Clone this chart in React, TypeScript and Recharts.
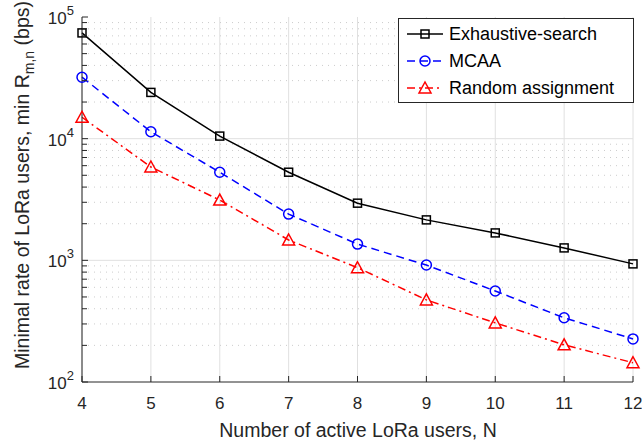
import React from 'react';
import {
  LineChart,
  Line,
  XAxis,
  YAxis,
  CartesianGrid,
  ReferenceLine,
  Legend,
} from 'recharts';

const users = [4, 5, 6, 7, 8, 9, 10, 11, 12];
const exhaustive = [74000, 24000, 10500, 5300, 2950, 2150, 1680, 1265, 935];
const mcaa = [32000, 11400, 5300, 2400, 1360, 915, 560, 337, 226];
const randomAssign = [15000, 5850, 3130, 1470, 870, 473, 306, 202, 144];

const decades = [100, 1000, 10000, 100000];
const minorSteps = [2, 3, 4, 5, 6, 7, 8, 9];
const yTicks = decades.flatMap((d, i) =>
  i < decades.length - 1 ? [d, ...minorSteps.map((m) => m * d)] : [d]
);

const series = [
  { key: 'exhaustive', name: 'Exhaustive-search', color: '#000000', dash: undefined, marker: 'square' },
  { key: 'mcaa', name: 'MCAA', color: '#0000ff', dash: '8 5', marker: 'circle' },
  { key: 'random', name: 'Random assignment', color: '#ff0000', dash: '8 4 2 4', marker: 'triangle' },
];

const data = users.map((n, i) => ({
  n,
  exhaustive: exhaustive[i],
  mcaa: mcaa[i],
  random: randomAssign[i],
}));

const AXIS = '#262626';
const FONT = '"Liberation Sans", Arial, Helvetica, sans-serif';

const Marker = ({ type, cx, cy, color }: any) => {
  if (cx == null || cy == null) return null;
  if (type === 'square') {
    return <rect x={cx - 4} y={cy - 4} width={8} height={8} fill="none" stroke={color} strokeWidth={1.5} />;
  }
  if (type === 'circle') {
    return <circle cx={cx} cy={cy} r={5} fill="none" stroke={color} strokeWidth={1.5} />;
  }
  return (
    <polygon
      points={`${cx},${cy - 6} ${cx - 6},${cy + 5} ${cx + 6},${cy + 5}`}
      fill="none"
      stroke={color}
      strokeWidth={1.5}
    />
  );
};

const LeftTick = ({ x, y, payload }: any) => {
  const v = payload.value;
  const major = decades.includes(v);
  const axisX = x + 8;
  return (
    <g>
      <line x1={axisX} x2={axisX + (major ? 6 : 5)} y1={y} y2={y} stroke={AXIS} />
      {major && (
        <text x={x} y={y + 7} textAnchor="end" fill={AXIS} fontSize={17} fontFamily={FONT}>
          <tspan>10</tspan>
          <tspan dy={-9} fontSize={13}>{Math.round(Math.log10(v))}</tspan>
        </text>
      )}
    </g>
  );
};

const RightTick = ({ x, y, payload }: any) => {
  const major = decades.includes(payload.value);
  return <line x1={x} x2={x - (major ? 6 : 5)} y1={y} y2={y} stroke={AXIS} />;
};

const BottomTick = ({ x, y, payload }: any) => (
  <g>
    <line x1={x} x2={x} y1={y} y2={y - 6} stroke={AXIS} />
    <text x={x} y={y + 27} textAnchor="middle" fill={AXIS} fontSize={17} fontFamily={FONT}>
      {payload.value}
    </text>
  </g>
);

const TopTick = ({ x, y }: any) => <line x1={x} x2={x} y1={y} y2={y + 6} stroke={AXIS} />;

const XLabel = () => (
  <text x={358} y={437} textAnchor="middle" fontSize={19.5} fontFamily={FONT} fill={AXIS}>
    Number of active LoRa users, N
  </text>
);

const YLabel = () => (
  <text
    transform="translate(29,185) rotate(-90)"
    textAnchor="middle"
    fontSize={19.5}
    fontFamily={FONT}
    fill={AXIS}
  >
    <tspan>Minimal rate of LoRa users, min R</tspan>
    <tspan dy={5} fontSize={14}>m,n</tspan>
    <tspan dy={-5}> (bps)</tspan>
  </text>
);

const LegendBox = () => (
  <svg width={236} height={85} style={{ display: 'block' }}>
    <rect x={0.5} y={0.5} width={235} height={84} fill="#ffffff" stroke={AXIS} />
    {series.map((s, i) => {
      const cy = 16 + i * 27;
      return (
        <g key={s.key}>
          <line x1={9} x2={45} y1={cy} y2={cy} stroke={s.color} strokeWidth={1.5} strokeDasharray={s.dash} />
          <Marker type={s.marker} cx={27} cy={cy} color={s.color} />
          <text x={51} y={cy + 6} fontSize={18} fontFamily={FONT} fill="#000000">
            {s.name}
          </text>
        </g>
      );
    })}
  </svg>
);

export default function App() {
  return (
    <div style={{ position: 'absolute', left: 0, top: 0, background: '#ffffff' }}>
      <LineChart
        width={642}
        height={445}
        data={data}
        margin={{ top: 17, right: 9, bottom: 0, left: 0 }}
      >
        <CartesianGrid horizontal={false} stroke="#e0e0e0" strokeWidth={1} />
        {yTicks
          .filter((v) => v > 100 && v < 100000)
          .map((v) => (
            <ReferenceLine
              key={v}
              y={v}
              stroke={decades.includes(v) ? '#e0e0e0' : '#cccccc'}
              strokeDasharray={decades.includes(v) ? undefined : '1 5'}
            />
          ))}
        <XAxis
          dataKey="n"
          type="number"
          domain={[4, 12]}
          ticks={users}
          interval={0}
          height={63}
          tickSize={0}
          tickMargin={0}
          tickLine={false}
          axisLine={{ stroke: AXIS }}
          tick={<BottomTick />}
          label={{ content: XLabel }}
        />
        <XAxis
          xAxisId="top"
          dataKey="n"
          type="number"
          orientation="top"
          domain={[4, 12]}
          ticks={users}
          interval={0}
          height={0}
          tickSize={0}
          tickMargin={0}
          tickLine={false}
          axisLine={{ stroke: AXIS }}
          tick={<TopTick />}
        />
        <YAxis
          scale="log"
          type="number"
          domain={[100, 100000]}
          ticks={yTicks}
          interval={0}
          width={82}
          tickSize={0}
          tickMargin={8}
          tickLine={false}
          axisLine={{ stroke: AXIS }}
          tick={<LeftTick />}
          allowDataOverflow
          label={{ content: YLabel }}
        />
        <YAxis
          yAxisId="right"
          orientation="right"
          scale="log"
          type="number"
          domain={[100, 100000]}
          ticks={yTicks}
          interval={0}
          width={0}
          tickSize={0}
          tickMargin={0}
          tickLine={false}
          axisLine={{ stroke: AXIS }}
          tick={<RightTick />}
          allowDataOverflow
        />
        {series.map((s) => (
          <Line
            key={s.key}
            dataKey={s.key}
            name={s.name}
            stroke={s.color}
            strokeWidth={1.5}
            strokeDasharray={s.dash}
            isAnimationActive={false}
            dot={(p: any) => <Marker key={`${s.key}-${p.index}`} type={s.marker} cx={p.cx} cy={p.cy} color={s.color} />}
            activeDot={false}
          />
        ))}
        <Legend
          layout="horizontal"
          verticalAlign="middle"
          align="center"
          content={<LegendBox />}
          wrapperStyle={{ left: 398, top: 18, width: 236, height: 85 }}
        />
      </LineChart>
    </div>
  );
}
